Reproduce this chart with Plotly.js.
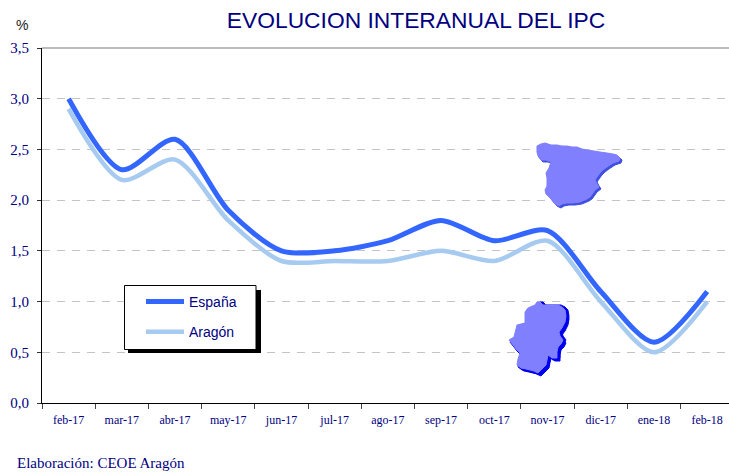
<!DOCTYPE html>
<html><head><meta charset="utf-8">
<script src="https://cdn.plot.ly/plotly-3.0.1.min.js"></script>
<style>html,body{margin:0;padding:0;background:#fff;overflow:hidden}</style></head>
<body><div id="chart" style="width:729px;height:475px"></div>
<script>
const months = ["feb-17","mar-17","abr-17","may-17","jun-17","jul-17","ago-17","sep-17","oct-17","nov-17","dic-17","ene-18","feb-18"];
const espana = [3.0,2.3,2.6,1.9,1.5,1.5,1.6,1.8,1.6,1.7,1.1,0.6,1.1];
const aragon = [2.9,2.2,2.4,1.8,1.4,1.4,1.4,1.5,1.4,1.6,1.0,0.5,1.0];
const yTicks = [0,0.5,1,1.5,2,2.5,3,3.5];
const yLabels = ["0,0","0,5","1,0","1,5","2,0","2,5","3,0","3,5"];
const navy = "#000080";

// decorative silhouettes, traced in window pixels
const spainOutline = [[537,146],[541,144],[545,143],[551,145],[557,145],[562,146],[567,146],[572,147],[577,147],[582,149],[587,150],[594,151],[600,152],[607,153],[613,154],[617,155],[620,158],[619,161],[613,163],[607,167],[603,170],[600,173],[597,177],[595,180],[597,184],[599,187],[595,190],[593,193],[590,197],[587,199],[580,202],[573,203],[567,203],[562,204],[559,206],[555,204],[551,199],[546,194],[545,190],[547,186],[547,178],[546,173],[549,168],[551,162],[546,160],[541,160],[538,156],[537,152]];
const aragonOutline = [[525,312],[528,308],[535,305],[537,302],[540,302],[543,305],[549,305],[558,305],[562,307],[565,310],[566,316],[565,322],[562,328],[559,332],[560,336],[563,340],[561,344],[558,347],[557,352],[557,358],[552,358],[548,355],[547,360],[546,365],[542,369],[538,373],[534,371],[526,369],[521,368],[517,365],[518,359],[520,353],[516,349],[513,345],[509,340],[514,337],[515,333],[516,329],[517,325],[521,324],[525,323]];

const L=42, T=48, W=687, H=355;
const px = x => (x-L)/W, py = y => (T+H-y)/H;
const pathOf = (pts,dx,dy) => "M"+pts.map(p=>px(p[0]+dx).toFixed(4)+","+py(p[1]+dy).toFixed(4)).join("L")+"Z";
const poly = (pts,dx,dy,color) => ({type:"path",xref:"paper",yref:"paper",layer:"above",path:pathOf(pts,dx,dy),fillcolor:color,line:{color:color,width:1}});
const rect = (x0,y0,x1,y1,fill,lc) => ({type:"rect",xref:"paper",yref:"paper",layer:"above",x0:px(x0),x1:px(x1),y0:py(y1),y1:py(y0),fillcolor:fill,line:{color:lc,width:lc==="rgba(0,0,0,0)"?0:1}});

const shapes = [
  {type:"line",xref:"paper",yref:"paper",x0:0,x1:1,y0:1,y1:1,line:{color:"#a6a6a6",width:1.5},layer:"below"},
  rect(128,290,261,353,"#000000","rgba(0,0,0,0)"),
  rect(124.5,285.5,256,349.5,"#ffffff","#000000"),
  poly(spainOutline,1,1,"#3f4fe0"),
  poly(spainOutline,2,2,"#3f4fe0"),
  poly(aragonOutline,3,0,"#0000ee"),
  poly(aragonOutline,1,2,"#0000ee"),
  poly(aragonOutline,3,3,"#0000ee"),
  poly(spainOutline,0,0,"#8080ff"),
  poly(aragonOutline,0,0,"#8080ff")
];

const makeTrace = (name,y,color,group,w) => ({type:"scatter",mode:"lines",name:name,x:months,y:y,legendgroup:group,
  line:{color:color,width:w,shape:"spline",smoothing:0.8}});

Plotly.newPlot("chart",[
  makeTrace("España",espana,"#3366ff","a",5),
  makeTrace("Aragón",aragon,"#a6caf0","b",4.5)
],{
  width:729,height:475,
  margin:{l:L,r:0,t:T,b:72,pad:0},
  paper_bgcolor:"#fff",plot_bgcolor:"#fff",
  showlegend:true,
  legend:{x:px(141),y:py(286),xanchor:"left",yanchor:"top",bgcolor:"rgba(0,0,0,0)",borderwidth:0,
    itemwidth:38,tracegroupgap:9,traceorder:"grouped",font:{family:"Liberation Sans",size:14,color:navy},itemclick:false},
  xaxis:{type:"category",categoryorder:"array",categoryarray:months,range:[-0.5,12.41],tickson:"boundaries",
    showgrid:false,zeroline:false,showline:true,linecolor:"#000",linewidth:1,ticks:"outside",ticklen:5,tickcolor:"#444",
    ticklabelstandoff:6,tickfont:{family:"Liberation Serif",size:12,color:navy},tickangle:0},
  yaxis:{range:[0,3.5],tickvals:yTicks,ticktext:yLabels,showgrid:true,gridcolor:"#c4c4c4",griddash:"8px,7px",gridwidth:1,
    zeroline:false,showline:true,linecolor:"#000",linewidth:1,ticks:"outside",ticklen:4,tickcolor:"#333",
    ticklabelstandoff:5,tickfont:{family:"Liberation Serif",size:15,color:navy}},
  title:{text:"EVOLUCION INTERANUAL DEL IPC",x:416/729,xanchor:"center",y:1-20/475,yanchor:"middle",font:{family:"Liberation Sans",size:22.8,color:navy}},
  annotations:[
    {text:"%",xref:"paper",yref:"paper",x:px(22),y:py(25),xanchor:"center",yanchor:"middle",showarrow:false,font:{family:"Liberation Sans",size:14,color:"#222"}},
    {text:"Elaboración: CEOE Aragón",xref:"paper",yref:"paper",x:px(15),y:py(463),xanchor:"left",yanchor:"middle",showarrow:false,font:{family:"Liberation Serif",size:15,color:navy}}
  ],
  shapes:shapes
},{displayModeBar:false,staticPlot:true});
</script></body></html>
